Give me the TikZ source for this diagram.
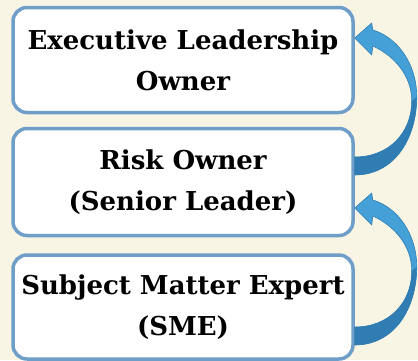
\documentclass[tikz,border=0pt]{standalone}
\usepackage{fontspec}
\setmainfont{DejaVu Serif}
\usetikzlibrary{calc}
\definecolor{paper}{HTML}{F8F5E4}
\definecolor{boxline}{HTML}{6F9FC8}
\definecolor{arrowlight}{HTML}{45A0D8}
\definecolor{arrowdark}{HTML}{2F7DB2}
% curved ribbon arrow, tip at #1
\newcommand{\roleflow}[1]{%
  \begin{scope}[shift={(#1)}]
    \filldraw[fill=arrowlight, draw=arrowdark, line width=0.6pt, line join=round]
      (18,-8) .. controls (42,-1) and (62,25) .. (62,59)
      .. controls (62,100) and (40,137) .. (0,137) -- (0,119)
      .. controls (34,119) and (57,95) .. (57,63)
      .. controls (57,38) and (40,18) .. (18,8) -- (17,17) -- (0,0) -- (17,-15) -- cycle;
    \fill[arrowdark]
      (62,59) .. controls (62,100) and (40,137) .. (0,137) -- (0,119)
      .. controls (34,119) and (57,95) .. (57,63) -- cycle;
  \end{scope}}
\begin{document}
\begin{tikzpicture}[x=1pt,y=-1pt,
    rolebox/.style={draw=boxline, line width=3.5pt, fill=white, rounded corners=14pt,
        minimum width=340pt, align=center, font=\bfseries\fontsize{26}{41}\selectfont}]
    % Background
    \fill[paper] (0,0) rectangle (418,360);
    \useasboundingbox (0,0) rectangle (418,360);

    % Boxes
    \node[rolebox, minimum height=105pt] (exec) at (183,60) {Executive Leadership\\Owner};
    \node[rolebox, minimum height=107pt] (risk) at (183,182) {Risk Owner\\(Senior Leader)};
    \node[rolebox, minimum height=104pt] (sme) at (183,307) {Subject Matter Expert\\(SME)};

    % Arrow tips on the right side of the upper boxes
    \coordinate (tipexec) at ($(exec.east)+(0,-22)$);
    \coordinate (tiprisk) at ($(risk.east)+(0,26)$);

    % Curved arrows: risk -> exec, sme -> risk
    \roleflow{tipexec}
    \roleflow{tiprisk}
\end{tikzpicture}
\end{document}
